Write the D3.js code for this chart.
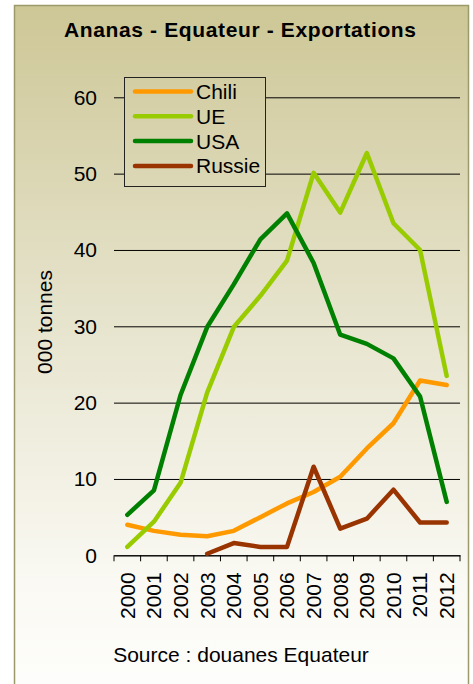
<!DOCTYPE html>
<html>
<head>
<meta charset="utf-8">
<script src="https://cdn.jsdelivr.net/npm/d3@7"></script>
<style>
  body { margin: 0; background: #fff; }
  text { font-family: 'Liberation Sans', Arial, sans-serif; fill: #000; }
</style>
</head>
<body>
<div id="chart"></div>
<script>
// values (000 tonnes)
var years = ['2000', '2001', '2002', '2003', '2004', '2005', '2006', '2007', '2008', '2009', '2010', '2011', '2012'];
var chili = [4.0, 3.2, 2.7, 2.5, 3.2, 5.0, 6.8, 8.3, 10.3, 14.0, 17.3, 22.9, 22.3];
var ue = [1.1, 4.4, 9.5, 21.3, 29.9, 34.0, 38.6, 50.1, 44.9, 52.7, 43.5, 40.0, 23.5];
var usa = [5.3, 8.5, 21.0, 29.9, 35.5, 41.4, 44.8, 38.3, 28.9, 27.7, 25.8, 20.8, 7.0];
var russie = [null, null, null, 0.2, 1.6, 1.1, 1.1, 11.6, 3.5, 4.8, 8.6, 4.3, 4.3];
var yTicks = [0, 10, 20, 30, 40, 50, 60];

var series = [
  { name: 'Chili', values: chili, color: '#ff9900' },
  { name: 'UE', values: ue, color: '#99cc00' },
  { name: 'USA', values: usa, color: '#008000' },
  { name: 'Russie', values: russie, color: '#993300' }
];

var w = 473, h = 684;
// plot area (note: "top" is taken by window.top, so use other names)
var plotLeft = 114, plotRight = 460, plotTop = 97.3, plotBottom = 555.3;

var svg = d3.select('#chart').append('svg')
  .attr('width', w)
  .attr('height', h);

// background gradient, tan at the top fading to almost white
var grad = svg.append('defs').append('linearGradient')
  .attr('id', 'bg')
  .attr('gradientUnits', 'userSpaceOnUse')
  .attr('x1', 0).attr('y1', 5).attr('x2', 0).attr('y2', 684);
grad.append('stop').attr('offset', '0%').attr('stop-color', '#cdc796');
grad.append('stop').attr('offset', '45%').attr('stop-color', '#e6e3cc');
grad.append('stop').attr('offset', '85%').attr('stop-color', '#faf9f3');
grad.append('stop').attr('offset', '100%').attr('stop-color', '#fdfdfb');

svg.append('rect')
  .attr('x', 14.5).attr('y', 5.5)
  .attr('width', 454).attr('height', 700)
  .attr('fill', 'url(#bg)')
  .attr('stroke', '#9a9a6a')
  .attr('stroke-width', 1.5);

svg.append('text')
  .attr('x', 240).attr('y', 37)
  .attr('text-anchor', 'middle')
  .attr('font-weight', 'bold')
  .attr('font-size', 21)
  .attr('textLength', 352)
  .attr('lengthAdjust', 'spacing')
  .text('Ananas - Equateur - Exportations');

var x = d3.scaleBand().domain(years).range([plotLeft, plotRight]);
var y = d3.scaleLinear().domain([0, 60]).range([plotBottom, plotTop]);

// y axis: gridlines plus labels, no axis line
var yAxis = svg.append('g')
  .attr('transform', 'translate(' + plotLeft + ',0)')
  .call(d3.axisLeft(y).tickValues(yTicks).tickSize(-(plotRight - plotLeft)).tickPadding(17));
yAxis.select('.domain').remove();
yAxis.selectAll('line').attr('stroke', '#000').attr('stroke-width', 1);
yAxis.selectAll('text').attr('font-size', 21).attr('font-family', "'Liberation Sans', Arial, sans-serif");

// x axis with ticks between categories
var xAxis = svg.append('g')
  .attr('transform', 'translate(0,' + plotBottom + ')')
  .call(d3.axisBottom(x).tickSize(0));
xAxis.select('.domain').attr('stroke', '#000');
xAxis.selectAll('text')
  .attr('font-size', 21)
  .attr('font-family', "'Liberation Sans', Arial, sans-serif")
  .attr('transform', 'rotate(-90)')
  .attr('text-anchor', 'end')
  .attr('x', -17)
  .attr('y', 0)
  .attr('dy', '0.35em');

var bounds = d3.range(years.length + 1).map(function(i) { return plotLeft + i * x.step(); });
xAxis.selectAll('.bound')
  .data(bounds)
  .enter()
  .append('line')
  .attr('class', 'bound')
  .attr('x1', function(d) { return d; })
  .attr('x2', function(d) { return d; })
  .attr('y1', 0)
  .attr('y2', 6)
  .attr('stroke', '#000');

svg.append('text')
  .attr('transform', 'translate(52,322) rotate(-90)')
  .attr('text-anchor', 'middle')
  .attr('font-size', 21)
  .text('000 tonnes');

// the lines
var line = d3.line()
  .defined(function(d) { return d != null; })
  .x(function(d, i) { return x(years[i]) + x.bandwidth() / 2; })
  .y(function(d) { return y(d); });

svg.selectAll('.series')
  .data(series)
  .enter()
  .append('path')
  .attr('class', 'series')
  .attr('d', function(d) { return line(d.values); })
  .attr('fill', 'none')
  .attr('stroke', function(d) { return d.color; })
  .attr('stroke-width', 4.5)
  .attr('stroke-linejoin', 'round')
  .attr('stroke-linecap', 'round');

// legend
var legend = svg.append('g').attr('id', 'legend');
legend.append('rect')
  .attr('x', 124.5).attr('y', 77.5)
  .attr('width', 141).attr('height', 109)
  .attr('fill', 'url(#bg)')
  .attr('stroke', '#222')
  .attr('stroke-width', 1);

legend.selectAll('line')
  .data(series)
  .enter()
  .append('line')
  .attr('x1', 135).attr('x2', 191)
  .attr('y1', function(d, i) { return 91.5 + i * 24.8; })
  .attr('y2', function(d, i) { return 91.5 + i * 24.8; })
  .attr('stroke', function(d) { return d.color; })
  .attr('stroke-width', 4.5)
  .attr('stroke-linecap', 'round');

legend.selectAll('text')
  .data(series)
  .enter()
  .append('text')
  .attr('x', 196)
  .attr('y', function(d, i) { return 99 + i * 24.8; })
  .attr('font-size', 21)
  .text(function(d) { return d.name; });

svg.append('text')
  .attr('x', 241).attr('y', 662)
  .attr('text-anchor', 'middle')
  .attr('font-size', 21)
  .text('Source : douanes Equateur');
</script>
</body>
</html>
